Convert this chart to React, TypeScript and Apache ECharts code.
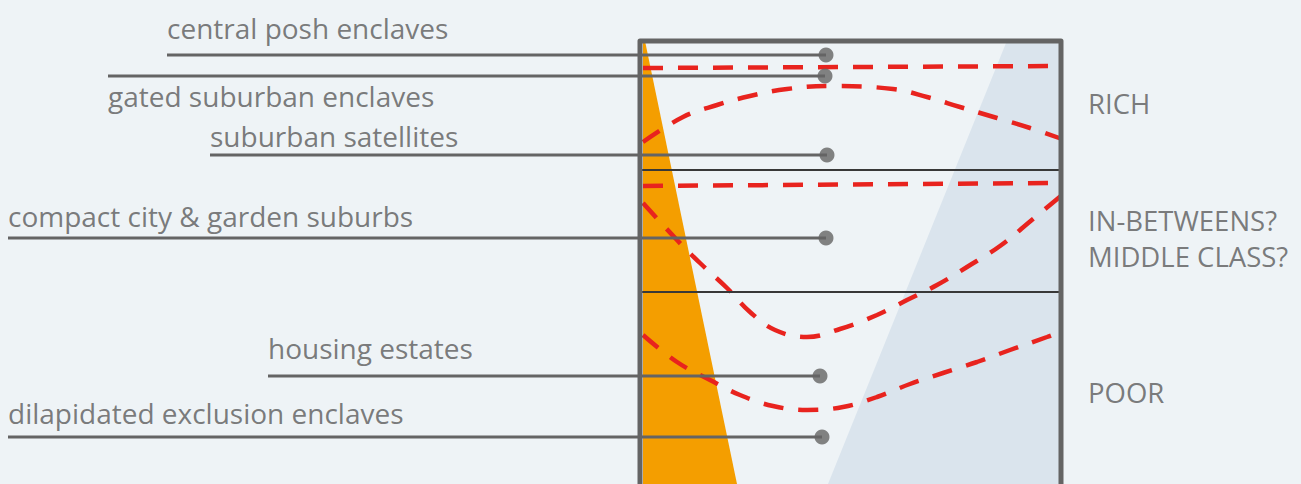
import React, { useEffect, useRef } from "react";
import * as echarts from "echarts";

// Axis units are the picture's own pixel grid (x: 0..1301, y: 0..484 from the top)
const X_MAX = 1301;
const Y_MAX = 484;

// Settlement types (left side)
const settlementTypes = [
  "central posh enclaves",
  "gated suburban enclaves",
  "suburban satellites",
  "compact city & garden suburbs",
  "housing estates",
  "dilapidated exclusion enclaves",
];
const dotX = [826, 825, 827, 826, 820, 822];
const dotY = [55, 76, 155, 238, 376, 437];
const leaderStartX = [167, 108, 210, 8, 268, 8];
const labelX = [167, 108, 210, 8, 268, 8];
const labelY = [28, 96, 136, 216, 348, 413];

// Social classes (right side)
const classLabels = ["RICH", "IN-BETWEENS?\nMIDDLE CLASS?", "POOR"];
const classX = [1088, 1088, 1088];
const classY = [103, 238, 392];

// Frame of the diagram
const frameLeft = 640;
const frameRight = 1061;
const frameTop = 41;
const dividerY = [170, 292];

// Shaded wedges
const orangeWedge: number[][] = [[643, 41], [645, 41], [737, 484], [643, 484]];
const blueWedge: number[][] = [[1006, 43], [1061, 43], [1061, 484], [828, 484]];

// Dashed red income curves
const richTop: number[][] = [[643, 68], [1059, 66]];
const richArc: number[][] = [
  [643, 142], [683, 117], [717, 105], [750, 96], [787, 89], [830, 86],
  [893, 89], [927, 97], [960, 107], [997, 118], [1030, 128], [1062, 139],
];
const middleTop: number[][] = [[643, 186], [1059, 183]];
const middleU: number[][] = [
  [643, 203], [677, 240], [700, 263], [727, 288], [750, 312], [775, 330],
  [807, 337], [840, 329], [877, 315], [907, 300], [937, 285], [967, 267],
  [1000, 246], [1033, 219], [1062, 195],
];
const poorCurve: number[][] = [
  [643, 335], [677, 362], [710, 380], [740, 395], [773, 406], [807, 410],
  [843, 407], [877, 397], [910, 384], [943, 373], [977, 362], [1010, 350],
  [1047, 337], [1060, 332],
];

const BG = "#EEF3F6";
const GREY = "#646464";
const TEXT = "#5a5a5a";
const RED = "#E8231E";
const FONT = "'Open Sans', 'Noto Sans', sans-serif";

export default function App() {
  const ref = useRef<HTMLDivElement>(null);

  useEffect(() => {
    if (!ref.current) return;
    const chart = echarts.init(ref.current, undefined, { renderer: "svg" });

    const polygonSeries = (pts: number[][], color: string, z: number) => ({
      type: "custom",
      z,
      silent: true,
      clip: false,
      data: [[0, 0]],
      renderItem: (_p: any, api: any) => ({
        type: "polygon",
        shape: { points: pts.map((p) => api.coord(p)) },
        style: { fill: color },
      }),
    });

    const dashed = (pts: number[][]) => ({
      type: "line",
      z: 4,
      data: pts,
      smooth: pts.length > 2 ? 0.4 : false,
      symbol: "none",
      silent: true,
      lineStyle: { color: RED, width: 4.5, type: [20, 15] },
    });

    const leaders = settlementTypes.map((_, i) => ({
      type: "line",
      z: 5,
      data: [[leaderStartX[i], dotY[i]], [dotX[i], dotY[i]]],
      symbol: "none",
      silent: true,
      lineStyle: { color: GREY, width: 3 },
    }));

    const dividers = dividerY.map((y) => ({
      type: "line",
      z: 5,
      data: [[frameLeft + 2, y], [frameRight - 2, y]],
      symbol: "none",
      silent: true,
      lineStyle: { color: "#383838", width: 2 },
    }));

    const option = {
      animation: false,
      backgroundColor: BG,
      grid: { left: 0, right: 0, top: 0, bottom: 0 },
      xAxis: { type: "value", min: 0, max: X_MAX, show: false },
      yAxis: { type: "value", min: 0, max: Y_MAX, inverse: true, show: false },
      series: [
        polygonSeries(orangeWedge, "#F49E00", 1),
        polygonSeries(blueWedge, "#DAE4ED", 1),
        dashed(richTop),
        dashed(richArc),
        dashed(middleTop),
        dashed(middleU),
        dashed(poorCurve),
        ...dividers,
        ...leaders,
        {
          type: "line",
          z: 6,
          data: [
            [frameLeft, Y_MAX + 10],
            [frameLeft, frameTop],
            [frameRight, frameTop],
            [frameRight, Y_MAX + 10],
          ],
          symbol: "none",
          silent: true,
          lineStyle: { color: GREY, width: 5, join: "round" },
        },
        {
          type: "scatter",
          z: 7,
          symbol: "circle",
          symbolSize: 15,
          silent: true,
          itemStyle: { color: GREY },
          data: dotX.map((x, i) => [x, dotY[i]]),
        },
        {
          type: "scatter",
          z: 8,
          symbolSize: 0,
          silent: true,
          data: settlementTypes.map((name, i) => ({ name, value: [labelX[i], labelY[i]] })),
          label: {
            show: true,
            position: "right",
            distance: 0,
            formatter: (p: any) => p.name,
            color: TEXT,
            fontSize: 28,
            fontFamily: FONT,
          },
        },
        {
          type: "scatter",
          z: 8,
          symbolSize: 0,
          silent: true,
          data: classLabels.map((name, i) => ({ name, value: [classX[i], classY[i]] })),
          label: {
            show: true,
            position: "right",
            distance: 0,
            formatter: (p: any) => p.name,
            color: TEXT,
            fontSize: 27.5,
            lineHeight: 36,
            fontFamily: FONT,
          },
        },
      ],
    };
    chart.setOption(option as any);
    return () => chart.dispose();
  }, []);

  return (
    <div
      ref={ref}
      style={{ position: "fixed", left: 0, top: 0, width: 1301, height: 484 }}
    />
  );
}
